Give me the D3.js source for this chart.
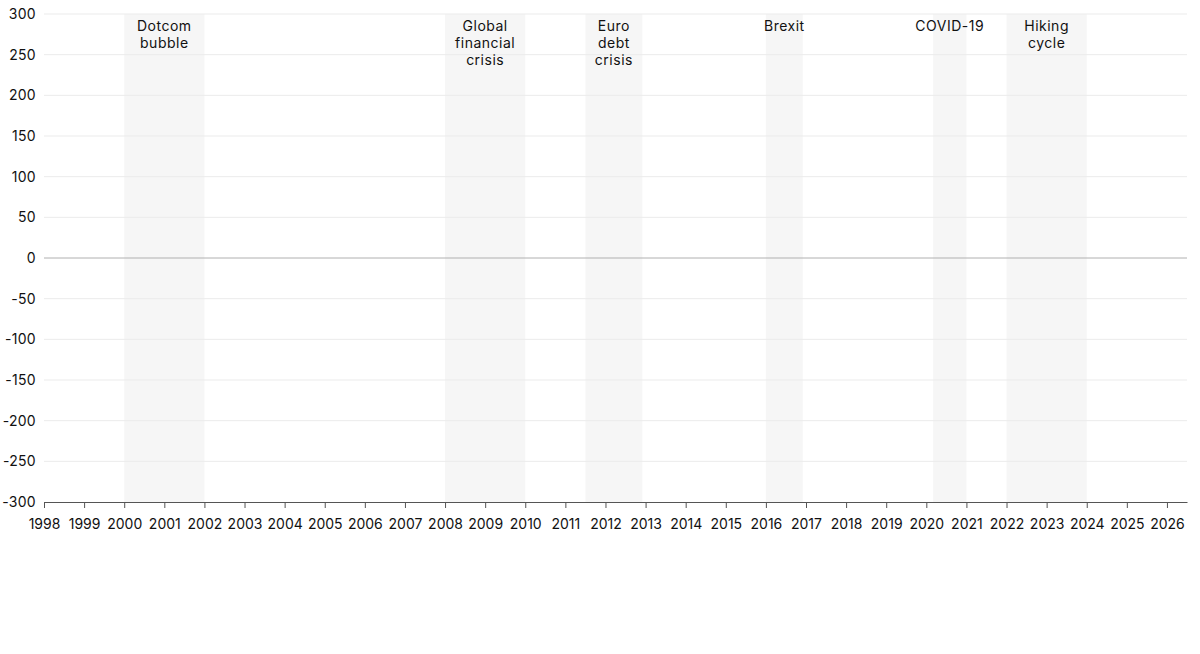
<!DOCTYPE html>
<html>
<head>
<meta charset="utf-8">
<script src="https://cdn.jsdelivr.net/npm/d3@7"></script>
<style>
  body { margin: 0; background: #fff; }
  text { font-family: Inter, "Noto Sans", sans-serif; }
</style>
</head>
<body>
<div id="chart"></div>
<script>
// data
var years = d3.range(1998, 2027);
var yTicks = d3.range(-300, 301, 50);
var eventNames = [["Dotcom", "bubble"], ["Global", "financial", "crisis"], ["Euro", "debt", "crisis"], ["Brexit"], ["COVID-19"], ["Hiking", "cycle"]];
var eventStart = [2000, 2008, 2011.5, 2016, 2020.17, 2022];
var eventEnd = [2002, 2010, 2012.92, 2016.92, 2021, 2024];

var width = 1200, height = 654;
var margin = {top: 14, left: 44, right: 13, bottom: 152};

var svg = d3.select("#chart").append("svg")
  .attr("width", width)
  .attr("height", height);

var x = d3.scaleLinear().domain([1998, 2026.5]).range([margin.left, width - margin.right]);
var y = d3.scaleLinear().domain([-300, 300]).range([height - margin.bottom, margin.top]);

// event bands
var bands = svg.append("g");
eventNames.forEach(function(name, i) {
  bands.append("rect")
    .attr("x", x(eventStart[i]))
    .attr("y", y(300))
    .attr("width", x(eventEnd[i]) - x(eventStart[i]))
    .attr("height", y(-300) - y(300))
    .attr("fill", "#f6f6f6");
});

// gridlines
svg.append("g").selectAll("line")
  .data(yTicks.filter(function(d) { return d !== 0 && d !== -300; }))
  .enter().append("line")
  .attr("x1", x(1998)).attr("x2", x(2026.5))
  .attr("y1", function(d) { return y(d); })
  .attr("y2", function(d) { return y(d); })
  .attr("stroke", "#ebebeb");

svg.append("line")
  .attr("x1", x(1998)).attr("x2", x(2026.5))
  .attr("y1", y(0)).attr("y2", y(0))
  .attr("stroke", "#b0b0b0");

// band labels
eventNames.forEach(function(name, i) {
  var t = svg.append("text")
    .attr("x", (x(eventStart[i]) + x(eventEnd[i])) / 2)
    .attr("y", 31)
    .attr("text-anchor", "middle")
    .attr("font-size", 14)
    .attr("letter-spacing", "0.5px")
    .attr("fill", "#111");
  name.forEach(function(line, j) {
    t.append("tspan")
      .attr("x", (x(eventStart[i]) + x(eventEnd[i])) / 2)
      .attr("dy", j === 0 ? 0 : 17)
      .text(line);
  });
});

// y axis labels
svg.append("g").selectAll("text")
  .data(yTicks)
  .enter().append("text")
  .attr("x", 36)
  .attr("y", function(d) { return y(d); })
  .attr("dy", "0.35em")
  .attr("text-anchor", "end")
  .attr("font-size", 14)
  .attr("letter-spacing", "0.3px")
  .attr("fill", "#111")
  .text(function(d) { return d; });

// x axis
var xAxis = svg.append("g")
  .attr("transform", "translate(0," + y(-300) + ")")
  .call(d3.axisBottom(x).tickValues(years).tickFormat(d3.format("d")).tickSize(6).tickSizeOuter(0));
xAxis.select(".domain").attr("stroke", "#555");
xAxis.selectAll(".tick line").attr("stroke", "#555");
xAxis.selectAll(".tick text")
  .attr("font-size", 14)
  .attr("fill", "#111")
  .attr("font-family", "Inter, 'Noto Sans', sans-serif")
  .attr("dy", "1.3em");
</script>
</body>
</html>
